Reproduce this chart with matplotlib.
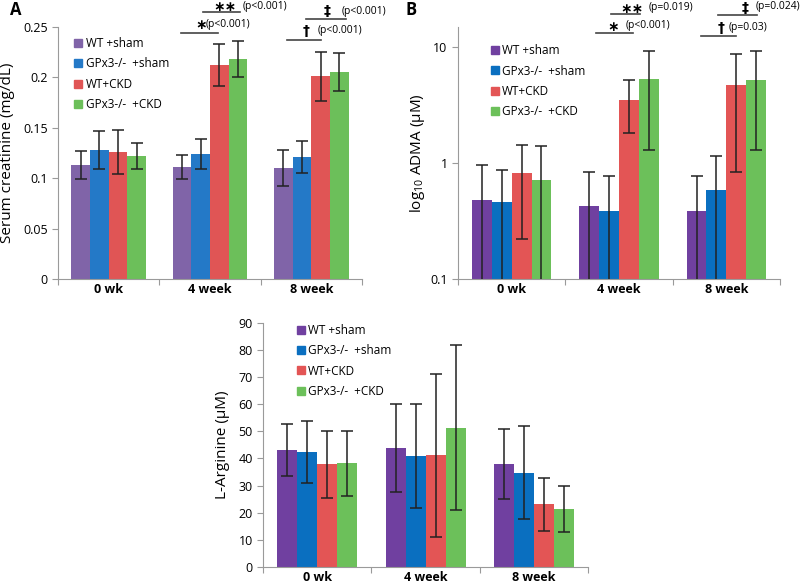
import numpy as np
import matplotlib
matplotlib.use("Agg")
import matplotlib.pyplot as plt
from matplotlib.lines import Line2D
import matplotlib.transforms as mtransforms

plt.rcParams['font.family'] = ['Open Sans', 'DejaVu Sans']
plt.rcParams['mathtext.fontset'] = 'custom'
plt.rcParams['mathtext.rm'] = 'Open Sans'

weeks = ['0 wk', '4 week', '8 week']
groups = ['WT +sham', 'GPx3-/-  +sham', 'WT+CKD', 'GPx3-/-  +CKD']

# serum creatinine (mg/dL), rows = groups, cols = weeks
creat = [[0.113, 0.111, 0.110],
         [0.128, 0.124, 0.121],
         [0.126, 0.212, 0.201],
         [0.122, 0.218, 0.205]]
creat_sd = [[0.014, 0.012, 0.018],
            [0.019, 0.015, 0.016],
            [0.022, 0.021, 0.024],
            [0.013, 0.018, 0.019]]

# ADMA (uM)
adma = [[0.48, 0.43, 0.39],
        [0.46, 0.39, 0.59],
        [0.83, 3.54, 4.77],
        [0.72, 5.30, 5.27]]
adma_sd = [[0.48, 0.41, 0.39],
           [0.42, 0.39, 0.57],
           [0.61, 1.73, 3.93],
           [0.70, 4.00, 3.98]]

# L-arginine (uM)
larg = [[43.2, 43.9, 37.9],
        [42.4, 41.0, 34.8],
        [37.8, 41.2, 23.1],
        [38.2, 51.4, 21.3]]
larg_sd = [[9.5, 16.2, 12.9],
           [11.3, 19.1, 17.0],
           [12.4, 30.1, 9.7],
           [12.0, 30.4, 8.6]]

colors_a = ['#8064a8', '#2479c7', '#e05555', '#6cbf5a']
colors_bc = ['#7040a0', '#0a6fc0', '#e35555', '#6cc05a']

fig = plt.figure(figsize=(8, 5.85), dpi=100)
axA = fig.add_axes([0.0725, 0.523, 0.38, 0.431])
axB = fig.add_axes([0.5725, 0.523, 0.4025, 0.431])
axC = fig.add_axes([0.329, 0.031, 0.406, 0.417])

w = 0.185
x = np.arange(len(weeks))


def bars(ax, vals, sds, colors, log=False):
    for i in range(len(groups)):
        v = np.array(vals[i])
        s = np.array(sds[i])
        pos = x + (i - 1.5) * w
        ax.bar(pos, v, w, color=colors[i], zorder=2)
        lo = s.copy()
        if log:
            lo = np.where(v - s <= 0, v * 0.9999, s)
        ax.errorbar(pos, v, yerr=[lo, s], fmt='none', ecolor='#222222',
                    elinewidth=1.1, capsize=4, capthick=1.1, zorder=3)


def style(ax, ylabel, colors, legx, legy, labelpad):
    for s in ['top', 'right']:
        ax.spines[s].set_visible(False)
    for s in ['left', 'bottom']:
        ax.spines[s].set_color('#9a9a9a')
    ax.set_xlim(-0.5, 2.5)
    ax.set_xticks([-0.5, 0.5, 1.5, 2.5])
    ax.set_xticklabels([])
    ax.set_xticks(x, minor=True)
    ax.set_xticklabels(weeks, minor=True, fontweight='bold', fontsize=9)
    ax.tick_params(axis='x', which='minor', length=0, pad=3)
    ax.tick_params(axis='x', which='major', length=4, color='#9a9a9a')
    ax.tick_params(axis='y', length=4, color='#9a9a9a', labelsize=9)
    ax.set_ylabel(ylabel, fontsize=11, labelpad=labelpad)
    handles = [Line2D([], [], marker='s', ls='none', markersize=5.5,
                      color=c) for c in colors]
    ax.legend(handles, groups, loc='upper left', bbox_to_anchor=(legx, legy),
              frameon=False, fontsize=8.5, handlelength=0.6, handletextpad=0.3,
              labelspacing=0.62, borderaxespad=0)


def sig(ax, xc, x0, x1, ly, sym, sx, sy, ptxt, px, py):
    tr = mtransforms.blended_transform_factory(ax.transData, ax.transAxes)
    ax.add_line(Line2D([xc + x0, xc + x1], [ly, ly], transform=tr,
                       color='#444444', lw=1.2, clip_on=False))
    ax.text(xc + sx, sy, sym, transform=tr, ha='center', va='center',
            fontsize=10, fontweight='bold', family='DejaVu Sans')
    ax.text(xc + px, py, ptxt, transform=tr, ha='left', va='center',
            fontsize=7.5)


# A
bars(axA, creat, creat_sd, colors_a)
axA.set_ylim(0, 0.25)
axA.set_yticks([0, 0.05, 0.1, 0.15, 0.2, 0.25])
axA.set_yticklabels(['0', '0.05', '0.1', '0.15', '0.2', '0.25'])
style(axA, 'Serum creatinine (mg/dL)', colors_a, 0.04, 0.978, 6)
sig(axA, 1, -0.29, 0.08, 0.976, '\u2217', -0.09, 1.008, '(p<0.001)', -0.04, 1.01)
sig(axA, 1, -0.07, 0.30, 1.060, '\u2217\u2217', 0.15, 1.08, '(p<0.001)', 0.32, 1.08)
sig(axA, 2, -0.24, 0.10, 0.948, '\u2020', -0.055, 0.984, '(p<0.001)', 0.065, 0.984)
sig(axA, 2, -0.05, 0.34, 1.032, '\u2021', 0.16, 1.063, '(p<0.001)', 0.30, 1.063)

# B
bars(axB, adma, adma_sd, colors_bc, log=True)
axB.set_yscale('log')
axB.set_ylim(0.1, 15)
axB.set_yticks([0.1, 1, 10])
axB.set_yticklabels(['0.1', '1', '10'])
axB.yaxis.set_minor_locator(matplotlib.ticker.NullLocator())
style(axB, 'log$_{10}$ ADMA (\u03bcM)', colors_bc, 0.09, 0.95, 2)
sig(axB, 1, -0.21, 0.13, 0.976, '\u2217', -0.05, 1.0, '(p<0.001)', 0.065, 1.004)
sig(axB, 1, -0.07, 0.20, 1.052, '\u2217\u2217', 0.12, 1.071, '(p=0.019)', 0.28, 1.075)
sig(axB, 2, -0.24, 0.09, 0.964, '\u2020', -0.05, 0.996, '(p=0.03)', 0.02, 0.996)
sig(axB, 2, -0.08, 0.29, 1.048, '\u2021', 0.17, 1.075, '(p=0.024)', 0.275, 1.079)

# C
bars(axC, larg, larg_sd, colors_bc)
axC.set_ylim(0, 90)
axC.set_yticks(np.arange(0, 91, 10))
style(axC, 'L-Arginine (\u03bcM)', colors_bc, 0.09, 1.015, 6)

fig.text(0.012, 0.983, 'A', fontsize=12, fontweight='bold', va='center')
fig.text(0.507, 0.983, 'B', fontsize=12, fontweight='bold', va='center')

fig.savefig('out.png', dpi=100)
